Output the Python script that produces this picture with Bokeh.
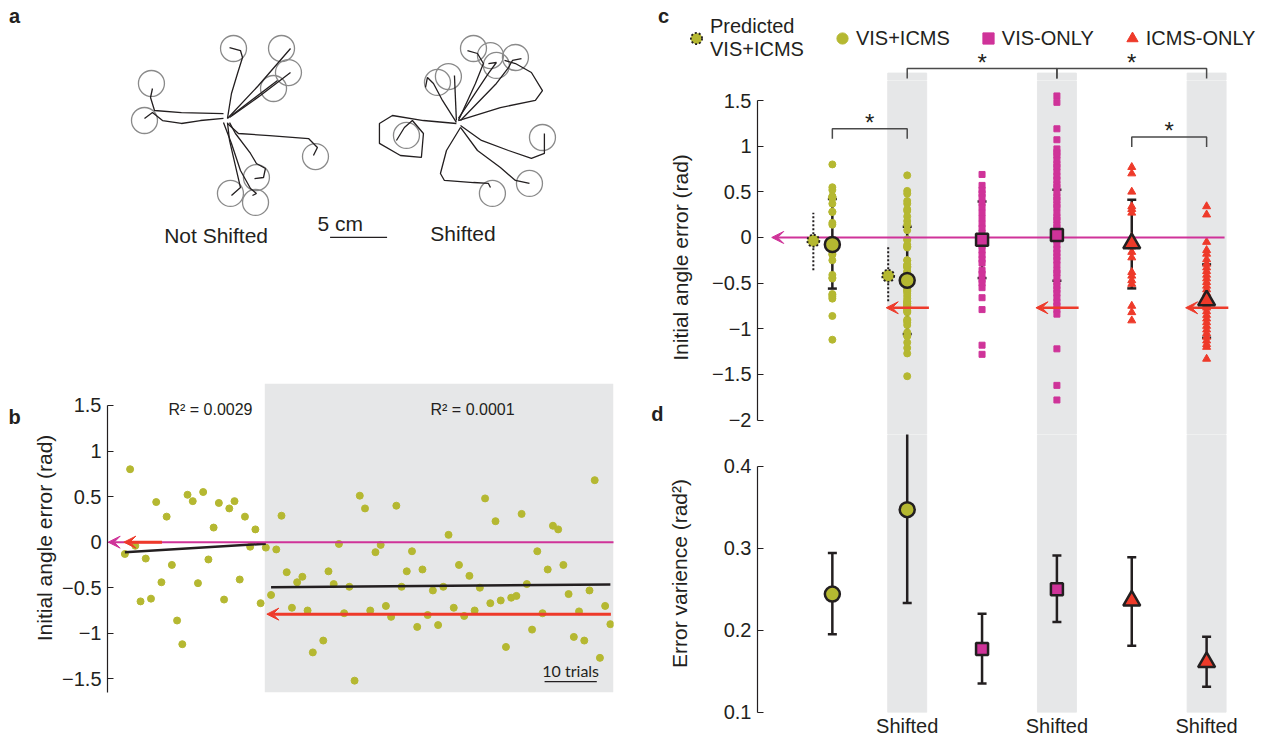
import numpy as np
from bokeh.plotting import figure
from bokeh.layouts import row, column
from bokeh.models import (Range1d, FixedTicker, BoxAnnotation, Arrow, VeeHead, Whisker, TeeHead,
                          ColumnDataSource, Legend, LegendItem, Plot)
from bokeh.core.properties import value
from bokeh.embed import file_html
from bokeh.resources import INLINE

FONT = "Liberation Sans"
OLIVE = "#b5b831"
MAGENTA = "#cf3399"
RED = "#ee3a2a"
BAND = "#e6e7e8"
INK = "#231f20"
TARGET = "#8a8a8a"

# ---------------- panel a data (cm, relative to start position) ----------------
NS_TARGETS_X = [0.53, 4.74, 5.35, 4.04, -6.67, -7.28, 7.72, 2.54, 0.26, 2.46]
NS_TARGETS_Y = [6.32, 6.32, 4.21, 2.81, 3.25, 0.0, -3.16, -5.00, -6.40, -7.19]
NS_PATHS_X = [
    [0, 0.35, 0.88, 1.32, 1.14, 0.18],
    [0, 2.72, 5.53],
    [0.18, 2.89, 5.53],
    [0.35, 4.39],
    [-0.35, -4.04, -6.40, -6.75, -6.58],
    [-0.35, -2.37, -4.04, -5.70, -6.58, -7.28],
    [0, 0.96, 3.68, 7.11, 7.89, 7.54],
    [0.18, 0.70, 2.02, 2.54, 3.33, 3.16, 2.37],
    [0, 0.18, 0.53, 1.14, 0.35],
    [-0.35, 0.35, 1.14, 2.02, 2.54, 2.19],
]
NS_PATHS_Y = [
    [0.18, 2.37, 4.12, 5.53, 6.14, 6.40],
    [0.18, 3.07, 6.32],
    [0.26, 2.19, 4.21],
    [0.44, 3.51],
    [0.61, 0.70, 0.88, 2.02, 2.81],
    [0.18, 0.0, -0.26, 0.0, 0.70, 0.18],
    [-0.26, -1.14, -1.32, -1.58, -2.37, -3.07],
    [-0.18, -1.14, -2.89, -3.77, -4.21, -5.00, -5.09],
    [-0.18, -1.75, -3.25, -5.88, -6.58],
    [-0.18, -2.02, -4.39, -5.96, -6.40, -6.58],
]
S_TARGETS_X = [1.32, 2.81, 3.33, 5.00, -1.84, -0.88, -4.56, 7.37, 6.23, 2.98]
S_TARGETS_Y = [6.58, 5.96, 5.09, 5.79, 3.60, 4.12, -1.05, -1.23, -5.26, -6.14]
S_PATHS_X = [
    [-0.18, -3.07, -5.79, -6.93, -6.93, -5.09, -3.25, -3.07, -4.04, -4.74, -5.44],
    [-0.18, -1.40, -2.19, -2.72, -2.89],
    [-0.18, -0.35],
    [0, 1.49, 2.19, 1.67, 0.79],
    [0, 2.63, 3.33, 2.63],
    [0.18, 3.33, 4.39, 4.74, 5.53],
    [0, 3.68, 6.75, 7.37, 6.40, 5.00, 4.04],
    [0.18, 2.02, 4.39, 6.40, 7.54, 7.54],
    [0.18, 1.67, 3.68, 5.00, 6.23],
    [0.18, -1.05, -1.58, -1.23, 1.32, 2.63, 2.81],
]
S_PATHS_Y = [
    [0, 0.26, 0.70, 0, -1.75, -2.81, -2.98, -0.88, 0.26, -0.35, -1.49],
    [0.09, 2.02, 3.51, 4.04, 3.16],
    [0.26, 4.21],
    [0.26, 3.51, 5.26, 6.14, 6.40],
    [0.44, 4.39, 5.35, 5.26],
    [0.26, 3.51, 4.91, 5.53, 5.70],
    [0.26, 1.40, 2.02, 2.89, 4.47, 5.26, 5.53],
    [-0.18, -1.49, -2.37, -3.07, -2.63, -0.88],
    [-0.35, -2.37, -3.86, -5.00, -5.26],
    [-0.35, -2.37, -4.39, -5.00, -5.18, -5.26, -5.61],
]
TARGET_RADIUS_CM = 1.14
SCALE_CM = 5

# ---------------- panel b data ----------------
B_LEFT_TRIALS = list(range(1, 29))
B_LEFT_VALS = [-0.13, 0.80, -0.04, -0.65, -0.18, -0.62, 0.44, -0.44, 0.28, -0.25, -0.86, -1.12, 0.52, 0.45,
               -0.45, 0.55, -0.19, 0.16, 0.43, -0.63, 0.37, 0.45, -0.41, 0.28, -0.05, 0.14, -0.67, -0.06]
B_RIGHT_TRIALS = list(range(29, 38)) + list(range(39, 95))
B_RIGHT_VALS = [-0.58, -0.08, 0.29, -0.33, -0.72, -0.44, -0.38, -0.75, -1.21, -1.08, -0.32, -0.46, -0.02,
                -0.78, -0.49, -1.52, 0.51, 0.37, -0.75, -0.11, -0.03, -0.70, -0.82, 0.40, -0.49, -0.32,
                -0.10, -0.93, -0.30, -0.80, -0.53, -0.91, -0.49, 0.08, -0.72, -0.25, -0.81, -0.37, -0.75,
                -0.50, 0.48, -0.67, 0.23, -0.64, -1.15, -0.61, -0.59, 0.31, -0.46, -0.96, -0.10, -0.78,
                -0.30, 0.18, 0.14, -0.25, -0.57, -1.04, -0.76, -1.08, -0.53, 0.68, -1.27, -0.70, -0.90]
B_FIT_LEFT_X = [1, 28]
B_FIT_LEFT_Y = [-0.11, -0.018]
B_FIT_RIGHT_X = [29, 94]
B_FIT_RIGHT_Y = [-0.494, -0.465]
B_SHIFT_START = 27.8
B_R2 = ["R\u00b2 = 0.0029", "R\u00b2 = 0.0001"]
B_SHIFT_TARGET = -0.79
B_TICKS = [1.5, 1, 0.5, 0, -0.5, -1, -1.5]
B_TICK_LABELS = ["1.5", "1", "0.5", "0", "\u22120.5", "\u22121", "\u22121.5"]
TRIAL_BAR = 10

# ---------------- panel c / d data ----------------
C_POS = [1, 2, 3, 4, 5, 6]
SHIFTED_POS = [2, 4, 6]
C_VIS_ONLY = [0.69, 0.57, 0.52, 0.48, 0.44, 0.38, 0.33, 0.27, 0.21, 0.15, 0.10, 0.05, 0.0, -0.04, -0.09,
              -0.14, -0.19, -0.24, -0.28, -0.36, -0.40, -0.46, -0.50, -0.55, -0.66, -0.79, -1.18, -1.28]
C_VIS_ONLY_SHIFTED = [1.55, 1.48, 1.19, 1.07, 0.97, 0.93, 0.90, 0.85, 0.80, 0.77, 0.72, 0.67, 0.63, 0.58,
                      0.55, 0.49, 0.44, 0.41, 0.36, 0.33, 0.27, 0.22, 0.19, 0.14, 0.11, 0.05, 0.01, -0.03,
                      -0.08, -0.13, -0.17, -0.21, -0.25, -0.30, -0.36, -0.39, -0.44, -0.49, -0.53, -0.57,
                      -0.61, -0.66, -0.71, -0.75, -0.79, -0.84, -1.22, -1.62, -1.78]
C_ICMS_ONLY = [0.77, 0.70, 0.50, 0.34, 0.31, 0.27, 0.0, -0.05, -0.10, -0.16, -0.22, -0.38, -0.42, -0.47,
               -0.51, -0.75, -0.82, -0.91]
C_ICMS_ONLY_SHIFTED = [0.34, 0.25, -0.05, -0.14, -0.18, -0.24, -0.29, -0.33, -0.37, -0.41, -0.45, -0.49,
                       -0.53, -0.57, -0.61, -0.65, -0.69, -0.73, -0.77, -0.81, -0.85, -0.89, -0.93, -0.97,
                       -1.01, -1.05, -1.09, -1.13, -1.17, -1.20, -1.33]
C_MEANS = [-0.077, -0.47, -0.025, 0.026, -0.065, -0.69]
C_HI = [0.42, 0.117, 0.394, 0.522, 0.413, -0.295]
C_LO = [-0.56, -1.058, -0.445, -0.474, -0.558, -1.099]
PRED_MEANS = [-0.036, -0.42]
PRED_HI = [0.27, -0.10]
PRED_LO = [-0.36, -0.70]
SHIFT_TARGET = -0.77
BRACKET_A = [1, 5, 2, 4]
BRACKET_B = [2, 6, 4, 6]
BRACKET_Y = [1.19, 1.10, 1.85, 1.85]
C_TICKS = [1.5, 1, 0.5, 0, -0.5, -1, -1.5, -2]
C_TICK_LABELS = ["1.5", "1", "0.5", "0", "\u22120.5", "\u22121", "\u22121.5", "\u22122"]
LEGEND_LABELS = ["Predicted\nVIS+ICMS", "VIS+ICMS", "VIS-ONLY", "ICMS-ONLY"]

D_MEANS = [0.244, 0.347, 0.177, 0.250, 0.236, 0.161]
D_HI = [0.294, 0.46, 0.22, 0.291, 0.289, 0.192]
D_LO = [0.195, 0.233, 0.135, 0.210, 0.181, 0.131]
D_TICKS = [0.1, 0.2, 0.3, 0.4]
D_TICK_LABELS = ["0.1", "0.2", "0.3", "0.4"]

MARKERS = ["circle", "circle", "square", "square", "triangle", "triangle"]
FILLS = [OLIVE, OLIVE, MAGENTA, MAGENTA, RED, RED]
SIZES = [15, 15, 12, 12, 17, 17]

# ---------------- helpers ----------------
EXTRA = {"frame_align": False} if "frame_align" in Plot.properties() else {}


def base_fig(**kw):
    kw.update(EXTRA)
    p = figure(output_backend="svg", toolbar_location=None, **kw)
    p.outline_line_color = None
    p.grid.visible = False
    p.background_fill_color = "white"
    p.border_fill_color = "white"
    return p


def style_y(ax, ticks, labels, bounds, label, standoff):
    ax.ticker = FixedTicker(ticks=ticks)
    ax.major_label_overrides = {t: l for t, l in zip(ticks, labels)}
    ax.bounds = bounds
    ax.major_tick_in = 6
    ax.major_tick_out = 0
    ax.minor_tick_line_color = None
    ax.minor_tick_in = 0
    ax.minor_tick_out = 0
    ax.axis_line_color = INK
    ax.major_tick_line_color = INK
    ax.axis_line_width = 1.2
    ax.major_label_text_font = FONT
    ax.major_label_text_font_size = "20px"
    ax.major_label_text_color = INK
    ax.major_label_standoff = 6
    ax.axis_label = label
    ax.axis_label_text_font = FONT
    ax.axis_label_text_font_size = "21px"
    ax.axis_label_text_font_style = "normal"
    ax.axis_label_text_color = INK
    ax.axis_label_standoff = standoff


def letter(p, x, y, t):
    p.text(x=[x], y=[y], text=[t], text_align="center", text_baseline="middle", text_font=value(FONT),
           text_font_size="20px", text_font_style="bold", text_color=INK)


# ---------------- panel a ----------------
S_ORIGIN = (20.26, -0.26)
pa = base_fig(width=640, height=265, x_range=Range1d(-19.91, 36.23), y_range=Range1d(-12.72, 10.53),
              x_axis_type=None, y_axis_type=None, min_border=0)
pa.circle(x=NS_TARGETS_X, y=NS_TARGETS_Y, radius=TARGET_RADIUS_CM, fill_color=None,
          line_color=TARGET, line_width=1.3)
pa.circle(x=[v + S_ORIGIN[0] for v in S_TARGETS_X], y=[v + S_ORIGIN[1] for v in S_TARGETS_Y],
          radius=TARGET_RADIUS_CM, fill_color=None, line_color=TARGET, line_width=1.3)
pa.multi_line(xs=NS_PATHS_X, ys=NS_PATHS_Y, line_color=INK, line_width=1.3)
pa.multi_line(xs=[[v + S_ORIGIN[0] for v in path] for path in S_PATHS_X],
              ys=[[v + S_ORIGIN[1] for v in path] for path in S_PATHS_Y], line_color=INK, line_width=1.3)
pa.segment(x0=[9.0], y0=[-10.26], x1=[9.0 + SCALE_CM], y1=[-10.26], line_color=INK, line_width=1.3)
pa.text(x=[7.9], y=[-9.04], text=[f"{SCALE_CM} cm"], text_align="left", text_baseline="middle",
        text_font=value(FONT), text_font_size="21px", text_color=INK)
pa.text(x=[-1.0, 20.66], y=[-10.09, -9.87], text=["Not Shifted", "Shifted"], text_align="center",
        text_baseline="middle", text_font=value(FONT), text_font_size="21px", text_color=INK)
letter(pa, -18.68, 9.2, "a")

# ---------------- panel b ----------------
pb = base_fig(width=610, height=475, x_range=Range1d(-2.33, 94.6), y_range=Range1d(-1.65, 1.741),
              x_axis_type=None, min_border_left=77, min_border_right=27, min_border_top=118,
              min_border_bottom=48)
style_y(pb.yaxis[0], B_TICKS, B_TICK_LABELS, (-1.65, 1.5), "Initial angle error (rad)", 3)
pb.add_layout(BoxAnnotation(left=B_SHIFT_START, fill_color=BAND, fill_alpha=1, line_color=None,
                            level="underlay"))
pb.scatter(B_LEFT_TRIALS, B_LEFT_VALS, size=7, color=OLIVE)
pb.scatter(B_RIGHT_TRIALS, B_RIGHT_VALS, size=7, color=OLIVE)
pb.add_layout(Arrow(end=VeeHead(size=12, fill_color=MAGENTA, line_color=MAGENTA), x_start=94.7, y_start=0,
                    x_end=-2.2, y_end=0, line_color=MAGENTA, line_width=2))
pb.add_layout(Arrow(end=VeeHead(size=12, fill_color=RED, line_color=RED), x_start=8.1, y_start=0,
                    x_end=0.8, y_end=0, line_color=RED, line_width=3))
pb.add_layout(Arrow(end=VeeHead(size=12, fill_color=RED, line_color=RED), x_start=94.1, y_start=B_SHIFT_TARGET,
                    x_end=28.2, y_end=B_SHIFT_TARGET, line_color=RED, line_width=3))
pb.line(B_FIT_LEFT_X, B_FIT_LEFT_Y, line_color=INK, line_width=2.5)
pb.line(B_FIT_RIGHT_X, B_FIT_RIGHT_Y, line_color=INK, line_width=2.5)
pb.text(x=[17.4, 67.6], y=[1.46, 1.46], text=B_R2, text_align="center", text_baseline="middle",
        text_font=value(FONT), text_font_size="16px", text_color=INK)
pb.segment(x0=[81.4], y0=[-1.53], x1=[81.4 + TRIAL_BAR], y1=[-1.53], line_color=INK, line_width=1.3)
pb.text(x=[86.4], y=[-1.41], text=[f"{TRIAL_BAR} trials"], text_align="center", text_baseline="middle",
        text_font=value("Lato"), text_font_size="16px", text_color=INK)

strip_b = base_fig(width=30, height=475, x_range=Range1d(0, 1), y_range=pb.y_range, x_axis_type=None,
                   y_axis_type=None, min_border_left=0, min_border_right=0, min_border_top=118,
                   min_border_bottom=48)
letter(strip_b, 0.47, 1.37, "b")

# ---------------- panel c ----------------
BAND_W = 0.52
BAND_TOP = 1.80
PX_PER_UNIT_X = 74.85
HEAD_LO, HEAD_HI = 1.7191, 2.5953
C_LO_LIM = -2.1582
pc_head = base_fig(width=623, height=80, x_range=Range1d(-117 / PX_PER_UNIT_X, 6.76),
                   y_range=Range1d(HEAD_LO, HEAD_HI), x_axis_type=None, y_axis_type=None, min_border=0)
pc = base_fig(width=597, height=354, x_range=Range1d(0, 6.76), y_range=Range1d(C_LO_LIM, HEAD_LO),
              x_axis_type=None, min_border_left=91, min_border_right=0, min_border_top=0,
              min_border_bottom=0)
style_y(pc.yaxis[0], C_TICKS, C_TICK_LABELS, (-2, 1.5), "Initial angle error (rad)", 17)
for fig in (pc_head, pc):
    fig.vbar(x=SHIFTED_POS, width=BAND_W, bottom=-3, top=BAND_TOP, color=BAND, level="underlay")

pc.scatter([C_POS[0]] * len(B_LEFT_VALS), B_LEFT_VALS, size=7, color=OLIVE)
pc.scatter([C_POS[1]] * len(B_RIGHT_VALS), B_RIGHT_VALS, size=7, color=OLIVE)
pc.scatter([C_POS[2]] * len(C_VIS_ONLY), C_VIS_ONLY, marker="square", size=6, color=MAGENTA)
pc.scatter([C_POS[3]] * len(C_VIS_ONLY_SHIFTED), C_VIS_ONLY_SHIFTED, marker="square", size=6, color=MAGENTA)
pc.scatter([C_POS[4]] * len(C_ICMS_ONLY), C_ICMS_ONLY, marker="triangle", size=8, color=RED)
pc.scatter([C_POS[5]] * len(C_ICMS_ONLY_SHIFTED), C_ICMS_ONLY_SHIFTED, marker="triangle", size=8, color=RED)

PRED_OFFSET = -0.254
pred_x = [C_POS[0] + PRED_OFFSET, C_POS[1] + PRED_OFFSET]
pc.segment(x0=pred_x, y0=PRED_LO, x1=pred_x, y1=PRED_HI, line_color=INK, line_width=2, line_dash="2 2")

pc.add_layout(Arrow(end=VeeHead(size=12, fill_color=MAGENTA, line_color=MAGENTA), x_start=6.24, y_start=0,
                    x_end=0.19, y_end=0, line_color=MAGENTA, line_width=2))
csrc = ColumnDataSource(dict(x=C_POS, upper=C_HI, lower=C_LO))
pc.add_layout(Whisker(source=csrc, base="x", upper="upper", lower="lower", dimension="height",
                      line_color=INK, line_width=2.5,
                      upper_head=TeeHead(size=9, line_color=INK, line_width=2.5),
                      lower_head=TeeHead(size=9, line_color=INK, line_width=2.5)))
for sx in SHIFTED_POS:
    pc.add_layout(Arrow(end=VeeHead(size=12, fill_color=RED, line_color=RED), x_start=sx + 0.29,
                        y_start=SHIFT_TARGET, x_end=sx - 0.28, y_end=SHIFT_TARGET, line_color=RED,
                        line_width=2.5))
pc.scatter(C_POS, C_MEANS, marker=MARKERS, size=SIZES, fill_color=FILLS, line_color=INK, line_width=2.5,
           level="overlay")
pc.scatter(pred_x, PRED_MEANS, size=12, fill_color=OLIVE, line_color=INK, line_width=1.8,
           line_dash="2 2", level="overlay")

BR_DROP = 0.11
AST_DY = 0.07
for fig in (pc_head, pc):
    fig.multi_line(xs=[[a, a, b, b] for a, b in zip(BRACKET_A, BRACKET_B)],
                   ys=[[y - BR_DROP, y, y, y - BR_DROP] for y in BRACKET_Y], line_color="#4a4a4a",
                   line_width=1.5)
ast_x = [(a + b) / 2 for a, b in zip(BRACKET_A, BRACKET_B)]
ast_y = [y + AST_DY for y in BRACKET_Y]
in_head = [y > HEAD_LO for y in ast_y]
for fig, keep in ((pc_head, True), (pc, False)):
    xs = [x for x, h in zip(ast_x, in_head) if h == keep]
    ys = [y for y, h in zip(ast_y, in_head) if h == keep]
    fig.text(x=xs, y=ys, text=["*"] * len(xs), text_align="center", text_baseline="middle",
             text_font=value(FONT), text_font_size="24px", text_color=INK)

# legend proxies (one NaN point each, so nothing is drawn in the plot area)
NAN = np.array([np.nan])
lg_pred = pc_head.scatter(NAN, NAN, size=12, fill_color=OLIVE, line_color=INK, line_width=1.8,
                          line_dash="2 2")
lg_vi = pc_head.scatter(NAN, NAN, size=7, color=OLIVE)
lg_vo = pc_head.scatter(NAN, NAN, marker="square", size=6, color=MAGENTA)
lg_io = pc_head.scatter(NAN, NAN, marker="triangle", size=8, color=RED)
legend = Legend(items=[LegendItem(label=lab, renderers=[r]) for lab, r in
                       zip(LEGEND_LABELS, [lg_pred, lg_vi, lg_vo, lg_io])],
                orientation="horizontal", location=(42, 19), glyph_width=28, glyph_height=28,
                label_standoff=-3, spacing=24, padding=0, margin=0, border_line_color=None,
                background_fill_alpha=0, label_text_font=FONT, label_text_font_size="20px",
                label_text_color=INK)
pc_head.add_layout(legend)
letter(pc_head, -1.256, 2.43, "c")

strip_d = base_fig(width=26, height=354, x_range=Range1d(0, 1), y_range=pc.y_range, x_axis_type=None,
                   y_axis_type=None, min_border=0)
letter(strip_d, 0.65, -1.93, "d")

# ---------------- panel d ----------------
pdd = base_fig(width=623, height=306, x_range=Range1d(0, 6.76), y_range=Range1d(0.0995, 0.4387),
               min_border_left=117, min_border_right=0, min_border_top=0, min_border_bottom=28)
style_y(pdd.yaxis[0], D_TICKS, D_TICK_LABELS, (0.1, 0.4), "Error varience (rad\u00b2)", 30)
xa = pdd.xaxis[0]
xa.ticker = FixedTicker(ticks=SHIFTED_POS)
xa.major_label_overrides = {t: "Shifted" for t in SHIFTED_POS}
xa.axis_line_color = None
xa.major_tick_line_color = None
xa.minor_tick_line_color = None
xa.major_tick_in = 0
xa.major_tick_out = 0
xa.minor_tick_in = 0
xa.minor_tick_out = 0
xa.major_label_standoff = 2
xa.major_label_text_font = FONT
xa.major_label_text_font_size = "20px"
xa.major_label_text_color = INK
pdd.vbar(x=SHIFTED_POS, width=BAND_W, bottom=0, top=1, color=BAND, level="underlay")
dsrc = ColumnDataSource(dict(x=C_POS, upper=D_HI, lower=D_LO))
pdd.add_layout(Whisker(source=dsrc, base="x", upper="upper", lower="lower", dimension="height",
                       line_color=INK, line_width=2.5,
                       upper_head=TeeHead(size=9, line_color=INK, line_width=2.5),
                       lower_head=TeeHead(size=9, line_color=INK, line_width=2.5)))
pdd.scatter(C_POS, D_MEANS, marker=MARKERS, size=SIZES, fill_color=FILLS, line_color=INK, line_width=2.5,
            level="overlay")

layout = row(column(pa, row(strip_b, pb)), column(pc_head, row(strip_d, pc), pdd))
open("out.html", "w").write(file_html(layout, INLINE))
